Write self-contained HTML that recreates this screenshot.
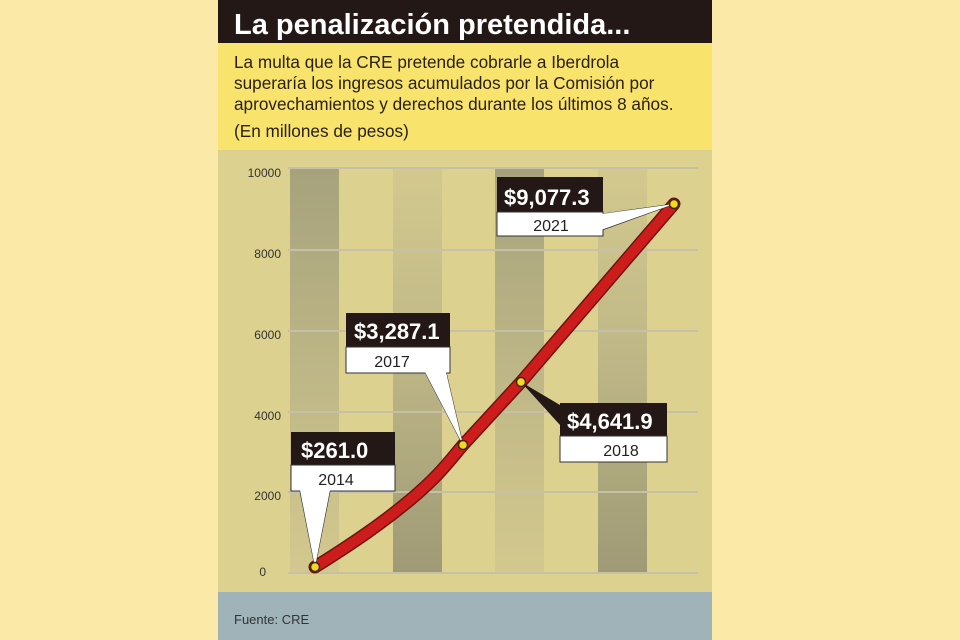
<!DOCTYPE html>
<html><head><meta charset="utf-8"><style>
body{margin:0;width:960px;height:640px;background:#fbe9a8;overflow:hidden;font-family:"Liberation Sans",sans-serif}
</style></head><body>
<svg width="960" height="640" viewBox="0 0 960 640" xmlns="http://www.w3.org/2000/svg" style="position:absolute;left:0;top:0">
<defs>
<linearGradient id="gd" x1="0" y1="0" x2="0" y2="1"><stop offset="0" stop-color="#a6a27c"/><stop offset="0.6" stop-color="#c2ba88"/><stop offset="1" stop-color="#d3c98e"/></linearGradient>
<linearGradient id="gu" x1="0" y1="0" x2="0" y2="1"><stop offset="0" stop-color="#d3c98e"/><stop offset="0.4" stop-color="#c2ba88"/><stop offset="1" stop-color="#9f9a76"/></linearGradient>
</defs>
<rect x="218" y="0" width="494" height="43" fill="#231815"/>
<text x="234" y="34" font-size="29" font-weight="bold" fill="#fff">La penalización pretendida...</text>
<rect x="218" y="43" width="494" height="107" fill="#f8e36c"/>
<g font-size="17.2" fill="#2a2018">
<text x="234" y="68">La multa que la CRE pretende cobrarle a Iberdrola</text>
<text x="234" y="89">superaría los ingresos acumulados por la Comisión por</text>
<text x="234" y="110">aprovechamientos y derechos durante los últimos 8 años.</text>
<text x="234" y="137">(En millones de pesos)</text>
</g>
<rect x="218" y="150" width="494" height="442" fill="#dcd18f"/>
<rect x="290" y="168" width="49" height="405" fill="url(#gd)"/>
<rect x="393" y="168" width="49" height="405" fill="url(#gu)"/>
<rect x="495" y="168" width="49" height="405" fill="url(#gd)"/>
<rect x="598" y="168" width="49" height="405" fill="url(#gu)"/>
<g stroke="#c6c0a6" stroke-width="2">
<line x1="288" y1="168" x2="698" y2="168"/><line x1="288" y1="250" x2="698" y2="250"/><line x1="288" y1="331" x2="698" y2="331"/><line x1="288" y1="412" x2="698" y2="412"/><line x1="288" y1="492" x2="698" y2="492"/><line x1="288" y1="573" x2="698" y2="573"/>
</g>
<g font-size="12" fill="#333" text-anchor="end">
<text x="281" y="177">10000</text><text x="281" y="258">8000</text><text x="281" y="339">6000</text><text x="281" y="420">4000</text><text x="281" y="500">2000</text><text x="266" y="576">0</text>
</g>
<path d="M315 567 C350 545 380 525 410 500 C440 475 450 460 463 445 L521 382 L674 204" fill="none" stroke="#6e1410" stroke-width="13" stroke-linecap="round"/>
<path d="M315 567 C350 545 380 525 410 500 C440 475 450 460 463 445 L521 382 L674 204" fill="none" stroke="#cc1c1c" stroke-width="10" stroke-linecap="round"/>
<polygon points="300,491 330,491 315,567" fill="#fff" stroke="#333" stroke-width="1"/>
<polygon points="425,372 446,372 463,445" fill="#fff" stroke="#333" stroke-width="1"/>
<polygon points="602,214 602,230 674,204" fill="#fff" stroke="#333" stroke-width="1"/>
<polygon points="521,382 560,405 560,425" fill="#231815"/>
<g font-weight="bold" font-size="22" fill="#fff">
<rect x="291" y="432" width="104" height="33" fill="#231815"/><text x="301" y="458">$261.0</text>
<rect x="346" y="313" width="104" height="34" fill="#231815"/><text x="354" y="339">$3,287.1</text>
<rect x="497" y="177" width="106" height="35" fill="#231815"/><text x="504" y="205">$9,077.3</text>
<rect x="560" y="403" width="107" height="33" fill="#231815"/><text x="567" y="429">$4,641.9</text>
</g>
<g font-size="16" fill="#222" text-anchor="middle">
<rect x="291" y="465" width="104" height="26" fill="#fff" stroke="#333" stroke-width="1"/><text x="336" y="485">2014</text>
<rect x="346" y="347" width="104" height="26" fill="#fff" stroke="#333" stroke-width="1"/><text x="392" y="367">2017</text>
<rect x="497" y="212" width="106" height="24" fill="#fff" stroke="#333" stroke-width="1"/><text x="551" y="231">2021</text>
<rect x="560" y="436" width="107" height="26" fill="#fff" stroke="#333" stroke-width="1"/><text x="621" y="456">2018</text>
</g>
<polygon points="425,372 446,372 463,445" fill="#fff"/>
<polygon points="300,490 330,490 315,567" fill="#fff"/>
<polygon points="601,214 601,230 674,204" fill="#fff"/>
<g fill="#f5d81a" stroke="#3a2a10" stroke-width="1.5">
<circle cx="315" cy="567" r="4.5"/><circle cx="463" cy="445" r="4.5"/><circle cx="521" cy="382" r="4.5"/><circle cx="674" cy="204" r="4.5"/>
</g>
<rect x="218" y="592" width="494" height="48" fill="#9fb3b9"/>
<text x="234" y="624" font-size="13" fill="#333">Fuente: CRE</text>
</svg>
</body></html>
